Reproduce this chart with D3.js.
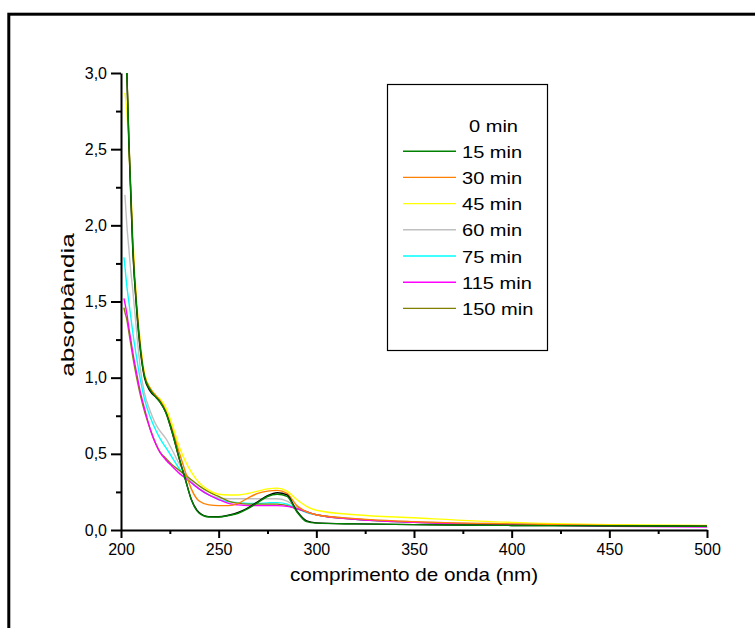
<!DOCTYPE html>
<html><head><meta charset="utf-8">
<script src="https://cdn.jsdelivr.net/npm/d3@7"></script>
<style>
body{margin:0;background:#fff;}
text{font-family:Arial,"Liberation Sans",sans-serif;fill:#000;}
</style></head>
<body>
<svg id="c" width="755" height="628"></svg>
<script>
// wavelength grid (nm)
const wavelengths = [201.5,202,203,204,205,206,208,210,212,215,218,220,223,226,230,233,236,240,245,250,255,260,265,270,275,280,285,290,295,300,320,350,400,450,500];
const seriesNames = ["0 min","15 min","30 min","45 min","60 min","75 min","115 min","150 min"];
const seriesColors = ["#000000","#008000","#ff8000","#ffff00","#c0c0c0","#00ffff","#ff00ff","#808000"];
const legendShowsLine = [false,true,true,true,true,true,true,true];
const abs0   = [null,null,3.0,2.55,2.2,1.85,1.45,1.17,1.0,0.91,0.87,0.84,0.77,0.65,0.46,0.33,0.2,0.115,0.088,0.087,0.097,0.115,0.145,0.185,0.225,0.245,0.23,0.125,0.06,0.047,0.04,0.035,0.03,0.027,0.025];
const abs15  = [null,null,3.0,2.57,2.22,1.87,1.46,1.18,1.01,0.92,0.87,0.84,0.77,0.65,0.46,0.33,0.2,0.11,0.085,0.085,0.095,0.11,0.14,0.18,0.22,0.235,0.22,0.12,0.055,0.045,0.04,0.035,0.03,0.027,0.025];
const abs30  = [null,null,3.0,2.58,2.24,1.9,1.48,1.2,1.02,0.93,0.88,0.85,0.78,0.67,0.5,0.38,0.27,0.19,0.165,0.16,0.16,0.175,0.21,0.24,0.255,0.26,0.24,0.16,0.12,0.1,0.075,0.055,0.04,0.03,0.025];
const abs45  = [null,2.87,2.75,2.5,2.25,1.95,1.5,1.22,1.03,0.93,0.88,0.86,0.8,0.7,0.54,0.45,0.38,0.31,0.26,0.235,0.23,0.23,0.24,0.255,0.27,0.275,0.255,0.2,0.155,0.13,0.1,0.08,0.05,0.035,0.03];
const abs60  = [null,2.2,2.0,1.85,1.7,1.58,1.3,1.05,0.9,0.78,0.69,0.65,0.6,0.53,0.43,0.37,0.32,0.27,0.23,0.21,0.205,0.205,0.205,0.205,0.205,0.205,0.19,0.15,0.12,0.1,0.075,0.055,0.04,0.03,0.025];
const abs75  = [1.79,1.73,1.6,1.5,1.4,1.3,1.13,0.98,0.86,0.74,0.65,0.6,0.54,0.48,0.4,0.35,0.31,0.27,0.23,0.2,0.185,0.18,0.175,0.175,0.178,0.18,0.17,0.14,0.115,0.1,0.07,0.05,0.035,0.03,0.025];
const abs115 = [1.52,1.49,1.42,1.33,1.25,1.17,1.03,0.9,0.8,0.66,0.56,0.51,0.46,0.42,0.37,0.34,0.31,0.27,0.23,0.2,0.175,0.165,0.16,0.16,0.16,0.16,0.155,0.14,0.12,0.1,0.07,0.05,0.035,0.025,0.02];
const abs150 = [1.46,1.43,1.38,1.3,1.22,1.14,1.0,0.88,0.78,0.66,0.56,0.51,0.47,0.43,0.39,0.36,0.33,0.29,0.25,0.22,0.19,0.175,0.17,0.17,0.17,0.17,0.16,0.14,0.12,0.1,0.07,0.05,0.035,0.03,0.025];
const seriesValues = [abs0,abs15,abs30,abs45,abs60,abs75,abs115,abs150];
const xTicks = [200,250,300,350,400,450,500];
const yTicks = [0,0.5,1.0,1.5,2.0,2.5,3.0];
const xLabel = "comprimento de onda (nm)";
const yLabel = "absorbândia";

const svg = d3.select("#c");
const x = d3.scaleLinear().domain([200,500]).range([121,707]);
const y = d3.scaleLinear().domain([0,3]).range([530,73]);
const fmt = d => d3.format(".1f")(d).replace(".", ",");

// outer frame
svg.append("rect").attr("x",8.8).attr("y",14.2).attr("width",800).attr("height",700)
  .attr("fill","none").attr("stroke","#000").attr("stroke-width",3);

svg.append("clipPath").attr("id","clip").append("rect")
  .attr("x",121).attr("y",73).attr("width",586).attr("height",457);

const line = d3.line().defined(d=>d[1]!=null).x(d=>x(d[0])).y(d=>y(d[1])).curve(d3.curveMonotoneX);
const g = svg.append("g").attr("clip-path","url(#clip)");
const order = [4,5,7,6,3,2,0,1];
order.forEach(i=>{
  const pts = wavelengths.map((w,k)=>[w,seriesValues[i][k]]);
  g.append("path").attr("d",line(pts)).attr("fill","none")
   .attr("stroke",seriesColors[i]).attr("stroke-width",1.4);
});

// axes
const xAxis = d3.axisBottom(x).tickValues(xTicks).tickSize(8).tickSizeOuter(0).tickPadding(6).tickFormat(d3.format("d"));
svg.append("g").attr("transform","translate(0,530)").call(xAxis);
const xMinor = d3.axisBottom(x).tickValues(d3.range(225,500,50)).tickSize(4).tickSizeOuter(0).tickFormat("");
svg.append("g").attr("transform","translate(0,530)").call(xMinor).select(".domain").remove();
const yAxis = d3.axisLeft(y).tickValues(yTicks).tickSize(10).tickSizeOuter(0).tickPadding(4).tickFormat(fmt);
svg.append("g").attr("transform","translate(121,0)").call(yAxis);
const yMinor = d3.axisLeft(y).tickValues(d3.range(0.25,3,0.5)).tickSize(5).tickSizeOuter(0).tickFormat("");
svg.append("g").attr("transform","translate(121,0)").call(yMinor).select(".domain").remove();
svg.selectAll(".domain, .tick line").attr("stroke","#000").attr("stroke-width",2);
svg.selectAll(".tick text").attr("font-size",16).attr("font-family","Arial, 'Liberation Sans', sans-serif");

// axis titles
svg.append("text").attr("transform","translate(414,581) scale(1.15,1)").attr("text-anchor","middle")
  .attr("font-size",18).text(xLabel);
svg.append("text").attr("transform","translate(74,305) rotate(-90) scale(1.45,1)").attr("text-anchor","middle")
  .attr("font-size",18).text(yLabel);

// legend
svg.append("rect").attr("x",387.5).attr("y",84.5).attr("width",160).attr("height",266)
  .attr("fill","#fff").attr("stroke","#000").attr("stroke-width",1.2);
seriesNames.forEach((n,i)=>{
  const yy = 125 + i*26.2;
  if(legendShowsLine[i]) svg.append("line").attr("x1",403).attr("x2",456).attr("y1",yy).attr("y2",yy)
    .attr("stroke",seriesColors[i]).attr("stroke-width",1.4);
  svg.append("text").attr("transform",`translate(${i===0?469:462},${yy+6.5}) scale(1.18,1)`)
    .attr("font-size",17).text(n);
});
</script>
</body></html>
